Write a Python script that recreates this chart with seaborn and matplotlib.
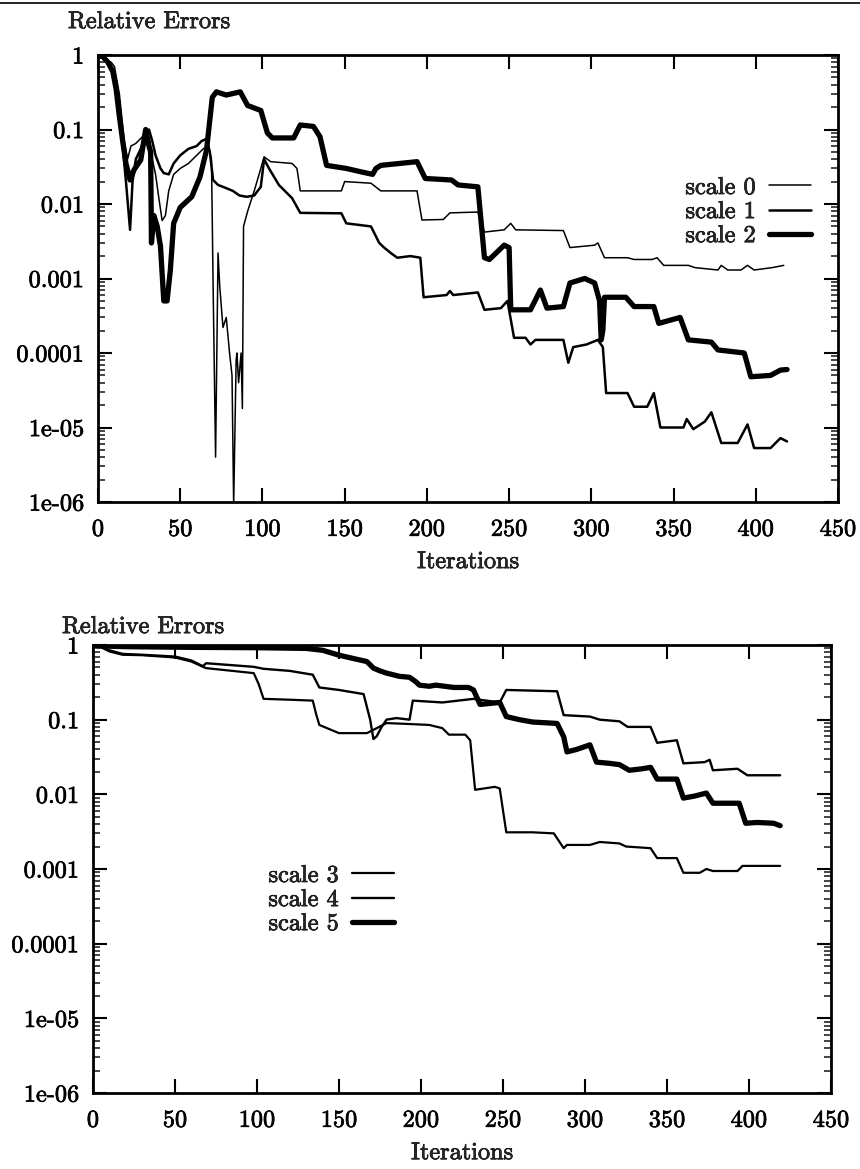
import numpy as np
import pandas as pd
import matplotlib
matplotlib.use("Agg")
import matplotlib.pyplot as plt
import matplotlib.patheffects as pe
from matplotlib.text import Text
from matplotlib.lines import Line2D
from matplotlib.ticker import FixedLocator, FixedFormatter, LogLocator, NullFormatter
import seaborn as sns

# ---------------- data ----------------
# top panel
s0_it = [0, 2, 5, 8, 10, 13, 16, 18, 20, 23, 27, 29, 31, 33, 35, 37, 39, 41, 43, 46, 50, 55, 60, 64, 67, 69,
         70, 71.5, 73, 74, 76, 78, 80, 81.5, 82.5, 84, 84.5, 85.5, 87, 87.8, 88.5, 91, 95, 99, 101, 105, 118,
         121, 123, 148, 150, 166, 172, 194, 197, 210, 214, 231, 235, 247, 251, 254, 283, 287, 302, 304, 308,
         322, 326, 337, 340, 344, 359, 363, 377, 379, 383, 391, 395, 399, 410, 417]
s0_err = [1.0, 0.95, 0.85, 0.8, 0.7, 0.3, 0.07, 0.04, 0.06, 0.065, 0.08, 0.1, 0.08, 0.04, 0.025, 0.012, 0.006,
          0.007, 0.015, 0.025, 0.03, 0.035, 0.045, 0.055, 0.06, 0.04,
          0.0008, 0.000004, 0.0022, 0.0008, 0.00022, 0.0003, 0.0001, 0.00005, 0.0000009, 0.00008, 0.0001,
          0.00004, 0.0001, 0.000018, 0.005, 0.008, 0.015, 0.03, 0.043, 0.037, 0.035,
          0.03, 0.015, 0.015, 0.02, 0.019, 0.015, 0.015, 0.0061, 0.0062, 0.0076, 0.0078, 0.0042, 0.0045,
          0.0055, 0.0045, 0.0044, 0.0026, 0.0028, 0.003, 0.0019,
          0.0019, 0.0018, 0.0018, 0.0019, 0.0015, 0.0015, 0.0014, 0.0013, 0.0015, 0.0013, 0.0013, 0.0015,
          0.0013, 0.0014, 0.0015]

s1_it = [0, 3, 6, 9, 12, 15, 17, 19.5, 21, 23, 26, 29, 31, 33, 35, 38, 40, 43, 46, 50, 55, 60, 63, 66, 68,
         70, 73, 76, 82, 86, 90.5, 95, 99, 101, 104, 110, 118, 123, 148, 151, 166, 171, 174, 178, 182, 190,
         196, 198, 212, 214, 216, 231, 235, 245, 249, 253, 260, 263, 266, 283, 286, 289, 297, 304, 307, 309,
         322, 326, 334, 338, 342, 356, 358, 362, 369, 373, 379, 389, 395, 399, 409, 415, 419]
s1_err = [1.0, 0.9, 0.8, 0.6, 0.3, 0.06, 0.02, 0.0045, 0.02, 0.04, 0.055, 0.08, 0.1, 0.07, 0.045, 0.03, 0.026,
          0.025, 0.035, 0.045, 0.055, 0.06, 0.07, 0.075, 0.05,
          0.021, 0.018, 0.017, 0.015, 0.013, 0.0125, 0.013, 0.017, 0.04, 0.03, 0.018, 0.012, 0.0076, 0.0075,
          0.0055, 0.005, 0.003, 0.0026, 0.0022, 0.0019, 0.002,
          0.0019, 0.00056, 0.0006, 0.00068, 0.0006, 0.00065, 0.00038, 0.0004, 0.0005, 0.00016, 0.00016,
          0.00013, 0.00015, 0.00015, 0.000074, 0.00012, 0.00013, 0.00015, 0.00012, 0.000029,
          0.000029, 0.000019, 0.000019, 0.000029, 0.00001, 0.00001, 0.000013, 0.0000095, 0.000012,
          0.000016, 0.0000062, 0.0000062, 0.000011, 0.0000053, 0.0000053, 0.0000072, 0.0000065]

s2_it = [1, 3, 6, 9, 11, 13, 15, 17, 19.5, 22, 26, 29, 31, 32, 32.5, 34, 36, 38, 40, 42, 44, 46, 50, 57, 62,
         66, 69.5, 72, 78, 86.5, 91, 99, 103, 106, 119, 123, 131, 135, 139, 151, 160, 167, 169, 172, 194,
         199, 215, 219, 231, 235, 238, 247, 250, 251, 263, 269, 273, 283, 287, 296, 302, 305, 306, 307, 308,
         321, 326, 338, 341, 354, 359, 373, 377, 393, 397, 409, 415, 419]
s2_err = [1.0, 0.95, 0.8, 0.6, 0.35, 0.15, 0.07, 0.035, 0.021, 0.029, 0.039, 0.1, 0.06, 0.05, 0.003, 0.007,
          0.005, 0.0027, 0.0005, 0.0005, 0.0013, 0.0055, 0.009, 0.0125, 0.023,
          0.053, 0.27, 0.32, 0.29, 0.32, 0.21, 0.18, 0.09, 0.077, 0.077, 0.115, 0.11, 0.08, 0.033, 0.03,
          0.027, 0.025, 0.03, 0.033, 0.037,
          0.022, 0.021, 0.018, 0.017, 0.0019, 0.0018, 0.0028, 0.0026, 0.00038, 0.00038, 0.0007, 0.0004,
          0.00042, 0.00087, 0.001, 0.00087, 0.0005, 0.00015, 0.0002, 0.00056,
          0.00056, 0.00042, 0.00042, 0.00025, 0.0003, 0.00015, 0.00014, 0.00011, 0.0001, 0.000048, 0.00005,
          0.000059, 0.00006]

# bottom panel
s3_it = [0, 5, 10, 18, 30, 50, 60, 67, 69, 98, 101, 104, 120, 134, 136, 138, 150, 167, 172, 179, 190, 205,
         213, 217, 227, 230, 233, 245, 248, 252, 268, 281, 287, 289, 303, 309, 321, 325, 340, 344, 356, 360,
         370, 374, 378, 393, 396, 419]
s3_err = [1.0, 0.93, 0.82, 0.74, 0.73, 0.68, 0.6, 0.51, 0.49, 0.42, 0.3, 0.19, 0.185, 0.18, 0.12, 0.085,
          0.066, 0.066, 0.075, 0.09, 0.088, 0.085,
          0.077, 0.063, 0.063, 0.053, 0.0115, 0.0126, 0.012, 0.0031, 0.0031, 0.003, 0.0019, 0.0021, 0.0021,
          0.0023, 0.0022, 0.002, 0.0019, 0.0014, 0.0014, 0.00089,
          0.00089, 0.001, 0.00094, 0.00094, 0.0011, 0.0011]

s4_it = [0, 5, 10, 18, 30, 50, 60, 67, 69, 98, 104, 120, 134, 138, 150, 165, 169, 171, 173, 176, 179, 185,
         193, 195, 213, 232, 248, 252, 283, 287, 303, 309, 321, 326, 340, 344, 356, 360, 373, 376, 378, 393,
         399, 419]
s4_err = [1.0, 0.95, 0.85, 0.76, 0.74, 0.7, 0.62, 0.52, 0.57, 0.51, 0.48, 0.45, 0.4, 0.27, 0.25, 0.22, 0.1,
          0.055, 0.06, 0.08, 0.1, 0.105,
          0.1, 0.18, 0.17, 0.19, 0.17, 0.25, 0.24, 0.115, 0.11, 0.1, 0.095, 0.08, 0.08, 0.049, 0.053, 0.026,
          0.027, 0.029, 0.021, 0.022, 0.018, 0.018]

s5_it = [0, 5, 20, 60, 100, 130, 140, 150, 160, 167, 171, 175, 179, 187, 193, 197, 199, 205, 209, 220, 229,
         232, 236, 248, 252, 260, 268, 283, 287, 289, 295, 303, 307, 315, 321, 327, 335, 340, 344, 356, 360,
         367, 374, 378, 394, 398, 405, 415, 419]
s5_err = [1.0, 0.97, 0.95, 0.93, 0.92, 0.9, 0.85, 0.73, 0.65, 0.6, 0.49, 0.45, 0.42, 0.38, 0.37, 0.32, 0.29,
          0.28, 0.29, 0.27, 0.27, 0.25, 0.16, 0.17, 0.11, 0.1, 0.093, 0.089, 0.059, 0.037, 0.04, 0.046, 0.027,
          0.026, 0.025, 0.021, 0.022, 0.023, 0.016, 0.016, 0.0089, 0.0095, 0.0104, 0.0076, 0.0076, 0.0041,
          0.0042, 0.0041, 0.0038]

x_ticks = [0, 50, 100, 150, 200, 250, 300, 350, 400, 450]
x_tick_labels = ["0", "50", "100", "150", "200", "250", "300", "350", "400", "450"]
y_ticks = [1e-6, 1e-5, 1e-4, 1e-3, 1e-2, 1e-1, 1]
y_tick_labels = ["1e-06", "1e-05", "0.0001", "0.001", "0.01", "0.1", "1"]

top_names = ["scale 0", "scale 1", "scale 2"]
bottom_names = ["scale 3", "scale 4", "scale 5"]

# ---------------- style ----------------
sns.set_theme(style="ticks")
plt.rcParams["font.family"] = ["cmr10", "DejaVu Serif"]
plt.rcParams["axes.unicode_minus"] = False
plt.rcParams["axes.formatter.use_mathtext"] = True
FS = 17.5

W, H = 860, 1169
fig = plt.figure(figsize=(W / 100, H / 100), dpi=100)
fig.patch.set_facecolor("white")

ax1 = fig.add_axes([98 / W, (H - 502) / H, 740 / W, 447 / H])
ax2 = fig.add_axes([93 / W, (H - 1093) / H, 738 / W, 448 / H])


def build(names, its, errs):
    frames = []
    for n, i, e in zip(names, its, errs):
        frames.append(pd.DataFrame({"Iterations": i, "err": e, "series": n}))
    return pd.concat(frames, ignore_index=True)


df_top = build(top_names, [s0_it, s1_it, s2_it], [s0_err, s1_err, s2_err])
df_bot = build(bottom_names, [s3_it, s4_it, s5_it], [s3_err, s4_err, s5_err])

widths_top = {"scale 0": 1.1, "scale 1": 1.8, "scale 2": 3.8}
widths_bot = {"scale 3": 1.6, "scale 4": 1.7, "scale 5": 3.8}


def draw(ax, df, names, widths):
    for n in names:
        sub = df[df["series"] == n]
        sns.lineplot(data=sub, x="Iterations", y="err", ax=ax, color="black",
                     linewidth=widths[n], label=n, estimator=None, sort=False,
                     solid_joinstyle="round", solid_capstyle="round")
    ax.set_yscale("log")
    ax.set_xlim(0, 450)
    ax.set_ylim(1e-6, 1)
    ax.xaxis.set_major_locator(FixedLocator(x_ticks))
    ax.xaxis.set_major_formatter(FixedFormatter(x_tick_labels))
    ax.yaxis.set_major_locator(FixedLocator(y_ticks))
    ax.yaxis.set_major_formatter(FixedFormatter(y_tick_labels))
    ax.yaxis.set_minor_locator(LogLocator(base=10, subs=np.arange(2, 10), numticks=20))
    ax.yaxis.set_minor_formatter(NullFormatter())
    ax.tick_params(axis="both", which="major", direction="in", top=True, right=True,
                   length=10, width=1.5, labelsize=FS, colors="black")
    ax.tick_params(axis="x", which="major", pad=12)
    ax.tick_params(axis="y", which="major", pad=10)
    ax.tick_params(axis="y", which="minor", direction="in", left=True, right=True,
                   length=5, width=1.2)
    ax.tick_params(axis="x", which="minor", bottom=False, top=False)
    for sp in ax.spines.values():
        sp.set_linewidth(2.0)
        sp.set_color("black")
        sp.set_visible(True)
    ax.set_ylabel("")
    ax.set_xlabel("Iterations", fontsize=FS, va="center")
    ax.xaxis.set_label_coords(0.5, -60 / 447)
    ax.set_facecolor("white")


draw(ax1, df_top, top_names, widths_top)
draw(ax2, df_bot, bottom_names, widths_bot)

hl = 42 / (FS * 100 / 72)
ax1.legend(loc="center right", bbox_to_anchor=((811 - 98) / 740, (502 - 212) / 447),
           markerfirst=False, frameon=False, fontsize=FS, handlelength=hl,
           handletextpad=0.55, labelspacing=0.08, borderpad=0, borderaxespad=0)
ax2.legend(loc="center right", bbox_to_anchor=((394 - 93) / 738, (1093 - 900) / 448),
           markerfirst=False, frameon=False, fontsize=FS, handlelength=hl,
           handletextpad=0.55, labelspacing=0.08, borderpad=0, borderaxespad=0)

fig.text(68 / W, 1 - 22 / H, "Relative Errors", ha="left", va="center", fontsize=FS)
fig.text(62 / W, 1 - 627 / H, "Relative Errors", ha="left", va="center", fontsize=FS)

# scanned page border at the very top
fig.add_artist(Line2D([0, 1], [1 - 3 / H, 1 - 3 / H], transform=fig.transFigure,
                      color="black", linewidth=1.2))

# slightly heavier text, like the scanned original
fig.canvas.draw()
for t in fig.findobj(Text):
    t.set_path_effects([pe.withStroke(linewidth=0.5, foreground="black")])

fig.savefig("out.png", dpi=100, facecolor="white")
